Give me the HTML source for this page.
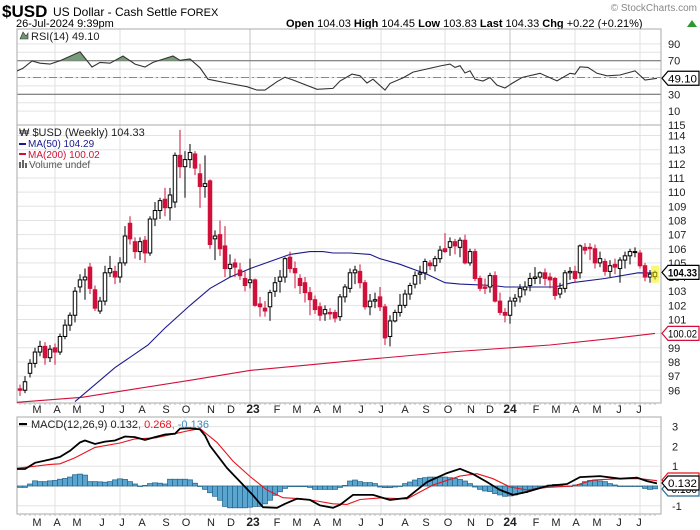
<!DOCTYPE html>
<html><head><meta charset="utf-8"><style>
body{margin:0;background:#fff;width:700px;height:530px;overflow:hidden}
svg{display:block;font-family:"Liberation Sans",sans-serif}
</style></head><body>
<svg id="c" width="700" height="530" viewBox="0 0 700 530" xmlns="http://www.w3.org/2000/svg">
<g>
<text x="2" y="17" font-size="17" font-weight="bold" fill="#000">$USD</text>
<text x="53" y="16" font-size="12" fill="#000">US Dollar - Cash Settle <tspan font-size="11">FOREX</tspan></text>
<text x="16" y="27" font-size="11" fill="#000">26-Jul-2024 9:39pm</text>
<text x="286" y="27" font-size="11" fill="#000"><tspan font-weight="bold">Open</tspan> 104.03 <tspan font-weight="bold">High</tspan> 104.45 <tspan font-weight="bold">Low</tspan> 103.83 <tspan font-weight="bold">Last</tspan> 104.33 <tspan font-weight="bold">Chg</tspan> +0.22 (+0.21%)</text>
<path d="M687 27 L692 20 L697 27 Z" fill="#2a9a2a"/>
<text x="697" y="11" font-size="10" fill="#888" text-anchor="end">© StockCharts.com</text>
</g>
<g id="grid"></g>
<g id="marks"></g>
<g id="labels"></g>
</svg>
<script>
const opens=[96.1,96.0,97.2,97.9,98.7,99.1,98.3,99.0,98.7,99.8,100.6,101.3,103.3,103.8,104.7,103.1,101.6,102.3,104.3,104.4,104.0,105.0,107.8,106.5,105.8,106.6,105.7,108.1,108.7,109.5,108.9,109.3,112.6,111.8,112.3,112.7,111.3,110.4,110.8,106.7,107.0,106.2,104.6,105.0,104.5,103.9,103.6,103.8,102.1,101.8,101.9,103.0,103.7,104.0,105.4,104.6,103.9,103.6,102.9,102.4,101.9,101.4,101.5,101.5,101.2,102.6,103.2,104.3,104.4,103.6,101.9,102.3,102.6,101.9,99.8,100.9,101.5,102.0,102.8,103.5,104.2,104.3,105.0,104.8,105.3,106.0,106.1,106.5,106.1,106.6,105.0,105.8,103.9,103.3,103.3,104.1,102.3,101.5,101.3,102.3,102.6,103.1,103.4,103.9,104.0,104.3,104.0,103.9,102.8,103.2,104.3,104.4,104.3,106.1,106.1,106.0,105.0,105.1,104.4,104.9,104.6,105.2,105.5,105.8,105.7,104.8,104.0,104.03];
const closes=[96.0,96.6,97.9,98.7,99.1,98.3,98.9,98.7,99.8,100.6,101.3,103.0,103.8,104.0,103.2,101.8,102.3,104.3,104.6,104.0,105.0,106.9,106.7,105.8,106.5,105.7,108.1,108.7,109.4,108.9,109.8,112.6,111.8,112.3,112.8,111.7,110.4,110.6,106.3,106.9,106.0,104.6,104.9,104.7,104.1,103.4,103.8,102.0,101.9,101.6,102.9,103.6,104.0,105.3,104.6,104.3,103.4,102.9,102.4,101.7,101.3,101.7,101.4,101.1,102.6,103.3,104.3,104.5,103.6,101.9,102.3,102.4,101.9,99.7,100.9,101.5,102.0,102.8,103.4,104.1,104.3,105.1,104.8,105.3,105.9,105.8,106.5,106.2,106.6,105.0,105.8,103.9,103.2,103.2,104.1,102.3,101.5,101.3,102.3,102.5,103.2,103.3,103.9,104.0,104.3,103.9,103.8,102.7,103.2,104.3,104.4,103.9,106.2,105.9,106.0,105.0,105.3,104.4,104.8,104.7,105.2,105.5,105.8,105.8,104.8,104.0,104.2,104.33];
const highs=[96.4,97.0,98.2,99.0,99.5,99.4,99.2,99.3,100.0,101.0,101.5,103.3,104.2,104.6,105.0,103.4,102.6,104.8,105.5,104.8,105.4,107.6,108.3,106.8,106.8,106.9,108.3,109.3,109.6,110.3,110.3,112.8,114.4,112.9,113.4,112.9,112.0,112.6,110.9,107.3,108.0,107.6,105.6,105.3,105.0,104.4,105.3,103.9,102.6,102.3,103.1,104.0,104.5,105.4,105.8,105.1,104.2,104.0,103.3,102.7,102.2,102.0,101.8,101.7,102.8,103.5,104.6,104.8,104.9,103.8,102.8,102.9,103.3,102.1,101.3,101.7,102.8,103.1,103.6,104.4,104.8,105.3,105.2,105.5,106.2,107.1,106.8,106.7,106.8,107.0,106.0,106.0,104.1,103.9,104.3,104.4,102.9,101.8,102.6,102.8,103.5,103.7,104.3,104.7,104.4,104.6,104.3,104.0,103.6,104.5,104.7,104.8,106.3,106.4,106.4,106.3,105.8,105.3,105.2,105.3,105.4,105.8,106.0,106.1,105.9,105.0,104.5,104.45];
const lows=[95.6,95.8,96.9,97.6,98.4,97.8,98.0,97.8,98.5,99.6,100.2,100.8,102.9,102.4,102.8,101.6,101.4,102.0,104.0,103.5,103.6,104.8,106.3,105.3,105.2,105.0,105.5,107.6,108.1,108.3,108.0,108.9,111.0,109.6,111.7,111.2,108.9,109.6,106.0,105.2,105.5,104.0,104.0,104.0,103.8,103.0,103.2,101.9,101.2,101.2,100.9,102.6,102.9,103.6,104.3,103.2,102.8,102.2,101.3,101.4,100.9,100.9,101.0,100.8,100.9,102.2,102.9,103.5,103.2,101.7,101.3,101.8,101.6,99.2,99.1,100.8,101.2,101.8,102.4,103.2,103.5,103.8,104.5,104.4,105.0,105.7,105.5,105.6,105.4,104.9,104.8,103.7,103.0,102.8,102.9,102.2,101.3,100.8,100.7,101.9,102.2,102.7,103.0,103.5,103.5,103.4,103.2,102.4,102.5,102.9,103.8,103.6,103.9,105.6,105.2,104.6,104.7,104.1,104.0,104.2,103.6,104.6,104.9,105.4,104.6,103.7,103.6,103.83];
const ma50Idx=[11,19,25.6,29,34,38,42,46,50,54,58,60.6,62.6,66,70,72,76,81.4,85,88,94.6,97,107,110.4,117,123.6,127];
const ma50Val=[95.2,97.6,99.2,100.4,102.0,103.2,104.0,104.6,105.1,105.6,105.8,105.8,105.7,105.7,105.6,105.3,104.9,104.2,103.6,103.5,103.4,103.3,103.3,103.6,103.9,104.3,104.29];
const ma200Idx=[-0.6,12.4,34,46,58,70,86,106,119.4,127];
const ma200Val=[95.15,95.5,96.7,97.4,97.8,98.2,98.7,99.2,99.7,100.02];
const rsiIdx=[-0.6,0.6,2.4,4,6,8,12,14.4,16,18,20.6,23,25,26.6,30.6,32,34,36,37.6,41.4,45.4,47.4,49,51.4,53,54.6,59.4,62.6,64,66.4,68,69.4,70.6,73,74,76.6,78.6,80.6,84,86,87,88,89,90,91,92.6,94,95.4,97,98.4,100.4,104,107.4,110,111,112,113.6,115.4,117.4,120,123,125,127.4];
const rsiVal=[57.7,61,69.6,67,66,70,80.6,62.5,68,67,75.6,66,62.5,68,75.6,70.5,72,61.5,48,43.4,39,35,35,45,50.4,47,36,37,45.8,54,52,43.5,48,35,43,49.5,56.4,59,63.7,66,62,64,55.4,58,48,45.8,50,41,37.5,43,50,55,46,55,54,62.7,62,55,52,53,58,47,49.1];
const macdIdx=[-0.6,1,3,6,8,10,12,13,15,17,19,21,23,25,27,29,31,32,34,36,37,38,41.4,44,46.6,48.6,51.4,53,55.4,58,60,62.6,64,66.6,70.6,74,77.4,81.4,85.4,88,90.6,93.4,96,98.6,101.4,105.4,109.4,112,116,120,123.4,125.4,127.4];
const macdVal=[0.86,0.86,1.17,1.34,1.47,1.78,2.2,2.3,2.12,2.24,2.3,2.5,2.47,2.33,2.47,2.6,2.64,2.9,2.92,2.86,2.55,2.03,0.91,0.22,-0.47,-1.07,-1.1,-0.9,-0.64,-0.7,-0.98,-1.1,-0.95,-0.45,-0.45,-0.7,-0.6,0.2,0.65,0.87,0.6,0.2,-0.2,-0.45,-0.3,0,0.1,0.45,0.5,0.37,0.42,0.25,0.13];
const sigIdx=[-0.6,2,6,8,11,15,20,23,27,31,34,36,39.4,42.6,46,49.4,52.6,56,59.4,62.6,65.4,68,72,77.4,82.6,88,91.4,94.6,98,101.4,105.4,110.6,114.6,120,124,127.4];
const sigVal=[0.9,0.97,1.09,1.12,1.43,1.95,2.17,2.38,2.43,2.64,2.81,2.9,2.2,1.26,0.48,-0.2,-0.59,-0.64,-0.76,-0.9,-0.93,-0.68,-0.6,-0.65,0.05,0.5,0.62,0.37,-0.05,-0.2,-0.07,0,0.3,0.37,0.37,0.27];
const histVal=[-0.07,-0.07,0.1,0.26,0.22,0.22,0.26,0.28,0.34,0.38,0.45,0.57,0.6,0.55,0.22,0.22,0.21,0.19,0.22,0.31,0.36,0.33,0.22,0.1,0,0.03,0.12,0.16,0.14,0.1,0.34,0.34,0.34,0.34,0.31,0.14,0,-0.17,-0.34,-0.52,-0.72,-1.03,-1.1,-1.1,-1.1,-1.1,-1.07,-1.03,-1.03,-0.9,-0.72,-0.47,-0.29,-0.12,-0.03,-0.03,-0.03,-0.03,-0.07,-0.17,-0.17,-0.17,-0.17,-0.17,-0.07,0.03,0.25,0.3,0.22,0.17,0.17,0.12,-0.05,-0.08,-0.08,-0.05,0,0.12,0.2,0.3,0.38,0.42,0.45,0.45,0.45,0.45,0.42,0.38,0.33,0.25,0.12,-0.05,-0.17,-0.25,-0.28,-0.38,-0.45,-0.52,-0.5,-0.45,-0.38,-0.33,-0.22,-0.12,-0.05,0,0.05,0.08,0.08,0,0,0.05,0.08,0.22,0.28,0.28,0.25,0.22,0.12,0.05,0,-0.02,-0.02,-0.02,-0.02,-0.12,-0.17,-0.14];
const priceTicks=[96,97,98,99,100,101,102,103,104,105,106,107,108,109,110,111,112,113,114,115];
const rsiTicks=[10,30,50,70,90];
const macdTicks=[-1,0,1,2,3];
const monthLabels=["M","A","M","J","J","A","S","O","N","D","23","F","M","A","M","J","J","A","S","O","N","D","24","F","M","A","M","J","J"];
const monthPos=[37,57,77,102,122,142,166,186,211,231,253,277,297,317,337,361,381,405,426,448,471,490,510,536,556,576,597,619,639];
const quarterLines=[55,120,185,250,315,381,445,510,575,640];

const NS="http://www.w3.org/2000/svg";
const L=17,R=661;
const P={rT:29,rB:125,pT:125,pB:403,mT:417,mB:514};
const xi=i=>20+i*5;
const yP=v=>206.3+(109-v)*14.15;
const yR=v=>60.7+(70-v)*0.84;
const yM=v=>486-v*19.8;
const grid=document.getElementById('grid'),marks=document.getElementById('marks'),labels=document.getElementById('labels');
function mk(tag,attrs,parent){const e=document.createElementNS(NS,tag);for(const k in attrs)e.setAttribute(k,attrs[k]);parent.appendChild(e);return e;}
function txt(s,x,y,attrs,parent){const t=mk('text',Object.assign({x:x,y:y,'font-size':11,fill:'#222'},attrs),parent);t.textContent=s;return t;}

const defs=mk('defs',{},document.getElementById('c'));
[['clipR',P.rT,P.rB],['clipP',P.pT,P.pB],['clipM',P.mT,P.mB]].forEach(([id,t,b])=>{const cp=mk('clipPath',{id:id},defs);mk('rect',{x:L,y:t,width:R-L,height:b-t},cp);});
const cpA=mk('clipPath',{id:'clipAbove'},defs);mk('rect',{x:L,y:P.rT,width:R-L,height:yR(70)-P.rT},cpA);

for(let v=10;v<=90;v+=10){const y=yR(v);const l=mk('line',{x1:L,x2:R,y1:y,y2:y,stroke:'#e3e3e3'},grid);}
priceTicks.forEach(v=>{const y=yP(v);if(y<P.pT||y>P.pB)return;const l=mk('line',{x1:L,x2:R,y1:y,y2:y,stroke:'#e3e3e3'},grid);});
macdTicks.forEach(v=>{const y=yM(v);const l=mk('line',{x1:L,x2:R,y1:y,y2:y,stroke:'#e3e3e3'},grid);});
quarterLines.forEach(x=>{[[P.rT,P.rB],[P.pT,P.pB],[P.mT,P.mB]].forEach(([t,b])=>{const l=mk('line',{x1:x,x2:x,y1:t,y2:b,stroke:(x===250||x===510)?'#c4c4c4':'#e0e0e0'},grid);});});
[70,30].forEach(v=>{const l=mk('line',{x1:L,x2:R,y1:yR(v),y2:yR(v),stroke:'#777','stroke-width':1.2},grid);});
{const l=mk('line',{x1:L,x2:R,y1:yR(50),y2:yR(50),stroke:'#888','stroke-dasharray':'8,3,2,3'},grid);}

[[P.rT,P.rB,'rsi-panel'],[P.pT,P.pB,'price-panel'],[P.mT,P.mB,'macd-panel']].forEach(([t,b,n])=>{const r=mk('rect',{x:L,y:t,width:R-L,height:b-t,fill:'none',stroke:'#aaa'},grid);});
for(let i=0;i<128;i++){[P.pB,P.mB].forEach(b=>{mk('line',{x1:xi(i),x2:xi(i),y1:b,y2:b+2,stroke:'#bbb'},grid);});}

function linePath(idx,val,yf){return idx.map((i,k)=>(k?'L':'M')+xi(i).toFixed(1)+' '+yf(val[k]).toFixed(1)).join(' ');}

const rsiD=linePath(rsiIdx,rsiVal,yR);
const rFill=mk('path',{d:rsiD+` L${xi(rsiIdx[rsiIdx.length-1])} ${yR(70)} L${xi(rsiIdx[0])} ${yR(70)} Z`,fill:'#789c78','clip-path':'url(#clipAbove)'},marks);

const rLine=mk('path',{d:rsiD,fill:'none',stroke:'#333','stroke-width':1.1,'clip-path':'url(#clipR)'},marks);


const m200=mk('path',{d:linePath(ma200Idx,ma200Val,yP),fill:'none',stroke:'#d0103a','stroke-width':1.1,'clip-path':'url(#clipP)'},marks);

const m50=mk('path',{d:linePath(ma50Idx,ma50Val,yP),fill:'none',stroke:'#1a1a8c','stroke-width':1.1,'clip-path':'url(#clipP)'},marks);

const cg=mk('g',{'clip-path':'url(#clipP)'},marks);
for(let i=0;i<closes.length;i++){
  const up=closes[i]>=opens[i];const col=up?'#000':'#d0103a';const x=xi(i);
  const w=mk('line',{x1:x,x2:x,y1:yP(highs[i]),y2:yP(lows[i]),stroke:col,'stroke-width':1},cg);
  
  
  const t=Math.min(yP(opens[i]),yP(closes[i]));const h=Math.max(1,Math.abs(yP(opens[i])-yP(closes[i])));
  const b=mk('rect',{x:x-1.75,y:t,width:3.5,height:h,fill:up?'#fff':'#d0103a',stroke:col,'stroke-width':1},cg);
  
  
}
mk('rect',{x:xi(127)-4,y:yP(104.8),width:8,height:yP(103.6)-yP(104.8),fill:'#f4f000',opacity:0.55},cg);

const hg=mk('g',{'clip-path':'url(#clipM)'},marks);
histVal.forEach((v,i)=>{const y0=yM(0),y1=yM(v);const r=mk('rect',{x:xi(i)-2.5,y:Math.min(y0,y1),width:5,height:Math.max(0.5,Math.abs(y1-y0)),fill:'#5aa6d0',stroke:'#2a6b90','stroke-width':0.8},hg);

});
const sg=mk('path',{d:linePath(sigIdx,sigVal,yM),fill:'none',stroke:'#e8141c','stroke-width':1.1,'clip-path':'url(#clipM)'},marks);

const ml=mk('path',{d:linePath(macdIdx,macdVal,yM),fill:'none',stroke:'#000','stroke-width':1.8,'clip-path':'url(#clipM)'},marks);


priceTicks.forEach(v=>{let y=yP(v)+4;if(y<129)y=129;const t=txt(String(v),668,y,{},labels);});
rsiTicks.forEach(v=>{if(v===50)return;const t=txt(String(v),668,yR(v)+4,{},labels);});
macdTicks.forEach(v=>{if(v===0)return;const t=txt(String(v),672,yM(v)+4,{},labels);});
function tag(s,y,col,name,bold){const g=mk('g',{},labels);
 mk('path',{d:`M662 ${y} L668 ${y-7} L699 ${y-7} L699 ${y+7} L668 ${y+7} Z`,fill:'#fff',stroke:col,'stroke-width':1.2},g);
 txt(s,668,y+4,{'font-weight':bold?'bold':'normal',fill:'#000',textLength:29,lengthAdjust:'spacingAndGlyphs'},g);}
tag('49.10',yR(49.1),'#000','rsi-value-tag',false);
tag('104.33',yP(104.33),'#000','last-price-tag',true);
tag('100.02',yP(100.02),'#d0103a','ma200-value-tag',false);
tag('0.268',480,'#e8141c','signal-value-tag',false);
tag('-0.136',489,'#2a6b90','hist-value-tag',false);
tag('0.132',483,'#000','macd-value-tag',false);

monthLabels.forEach((m,k)=>{[413,526].forEach(y=>{const bold=(m==='23'||m==='24');const t=txt(m,monthPos[k],y,{'text-anchor':'middle','font-weight':bold?'bold':'normal','font-size':bold?12:11},labels);

});});

const lg=mk('g',{},labels);
mk('path',{d:'M20 39 L23 32 L26 36 L28 33 L28 39 Z',fill:'#6e966e',stroke:'#333','stroke-width':0.6},lg);
txt('RSI(14) 49.10',31,40,{'font-size':11},lg);
txt('₩ $USD (Weekly) 104.33',19,136,{'font-size':11},lg);
mk('rect',{x:19,y:143,width:7,height:2,fill:'#1a1a8c'},lg);txt('MA(50) 104.29',28,147,{fill:'#1a1a8c','font-size':10},lg);
mk('rect',{x:19,y:153,width:7,height:2,fill:'#d0103a'},lg);txt('MA(200) 100.02',28,158,{fill:'#d0103a','font-size':10},lg);
mk('path',{d:'M19 168 V162 H21 V168 M22 168 V160 H24 V168 M25 168 V163 H27 V168',fill:'#666'},lg);txt('Volume undef',29,168,{fill:'#555','font-size':10},lg);
mk('rect',{x:19,y:423,width:8,height:2.2,fill:'#000'},lg);
const mt=txt('',31,428,{'font-size':11},lg);
mt.innerHTML='MACD(12,26,9) 0.132<tspan fill="#e8141c">, 0.268</tspan><tspan fill="#3a8ac0">, -0.136</tspan>';
</script>
</body></html>
